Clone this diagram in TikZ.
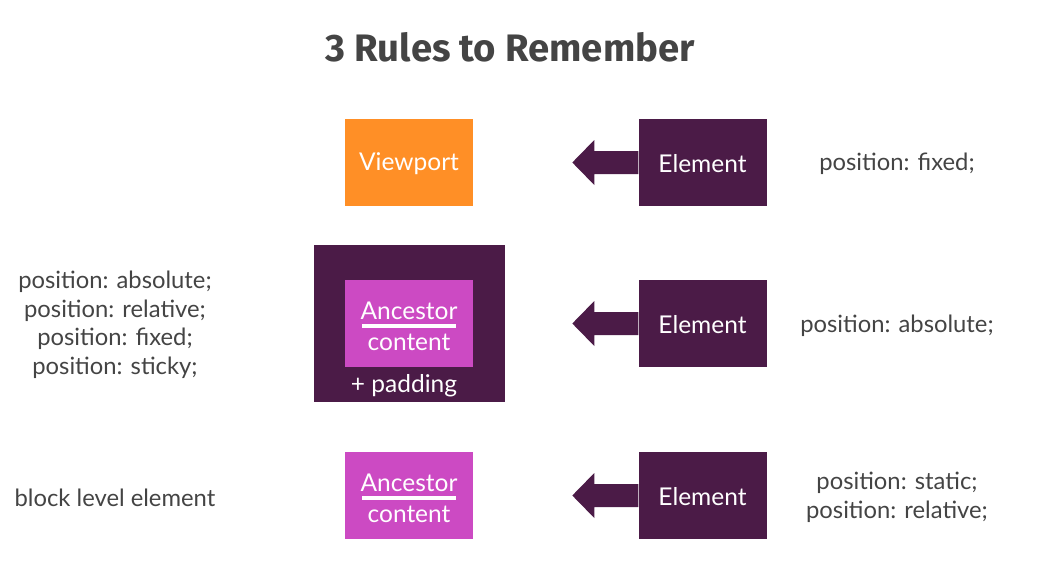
\documentclass[tikz,border=0pt]{standalone}
\usepackage{fontspec}
\setmainfont{Lato}
\newfontfamily\titlefont{Fira Sans}
\definecolor{vporange}{HTML}{FF8F26}
\definecolor{darkplum}{HTML}{4B1B47}
\definecolor{magentabox}{HTML}{CC4AC3}
\definecolor{txtgray}{HTML}{444444}
\begin{document}
\begin{tikzpicture}[x=1pt,y=-1pt,
  box/.style={draw=none,minimum width=128pt,minimum height=87pt,inner sep=0pt},
  whitetxt/.style={text=white,font=\fontsize{24.5}{28}\selectfont},
  gtxt/.style={text=txtgray,font=\fontsize{23.8}{28.5}\selectfont,align=center,inner sep=0pt},
  leftarrow/.style={fill=darkplum,draw=none}]
\useasboundingbox (0,0) rectangle (1054,570);
\node[text=txtgray,font=\titlefont\bfseries\fontsize{38.3}{42}\selectfont] (title) at (510,47) {3 Rules to Remember};

% row 1
\node[box,fill=vporange] (vp) at (409,162.5) {};
\node[whitetxt,inner sep=0pt] (vpt) at (409,164) {Viewport};
\node[box,fill=darkplum] (el1) at (702.5,162.5) {};
\node[whitetxt,inner sep=0pt] (el1t) at (702.5,164) {Element};
\node[gtxt] (t1) at (897,164) {position: fixed;};

% row 2
\node[box,fill=darkplum,minimum width=191pt,minimum height=157pt] (outer) at (409.5,323.5) {};
\node[box,fill=magentabox] (anc2) at (408.5,323.5) {};
\node[whitetxt,inner sep=0pt] (a2t) at (409,311) {Ancestor};
\node[whitetxt,inner sep=0pt] (a2b) at (409,342.5) {content};
\draw[white,line width=4pt] (362,326) -- (456,326);
\node[whitetxt,inner sep=0pt] (pad) at (404,385.5) {+ padding};
\node[box,fill=darkplum] (el2) at (702.5,323.5) {};
\node[whitetxt,inner sep=0pt] (el2t) at (702.5,325) {Element};
\node[gtxt] (t2) at (897,325.5) {position: absolute;};
\node[gtxt] (l2) at (115,325) {position: absolute;\\position: relative;\\position: fixed;\\position: sticky;};

% row 3
\node[box,fill=magentabox] (anc3) at (409,495.5) {};
\node[whitetxt,inner sep=0pt] (a3t) at (409,483) {Ancestor};
\node[whitetxt,inner sep=0pt] (a3b) at (409,514.5) {content};
\draw[white,line width=4pt] (362,498) -- (456,498);
\node[box,fill=darkplum] (el3) at (702.5,495.5) {};
\node[whitetxt,inner sep=0pt] (el3t) at (702.5,497) {Element};
\node[gtxt] (t3) at (897,497.5) {position: static;\\position: relative;};
\node[gtxt] (l3) at (115,497.5) {block level element};

% arrows
\foreach \e in {el1,el2,el3}{
  \fill[leftarrow] ([yshift=11.5pt]\e.west) -- ++(-44,0) -- ++(0,-11) -- ++(-22,22.5) -- ++(22,22.5) -- ++(0,-11) -- ++(44,0) -- cycle;
}
\end{tikzpicture}
\end{document}
